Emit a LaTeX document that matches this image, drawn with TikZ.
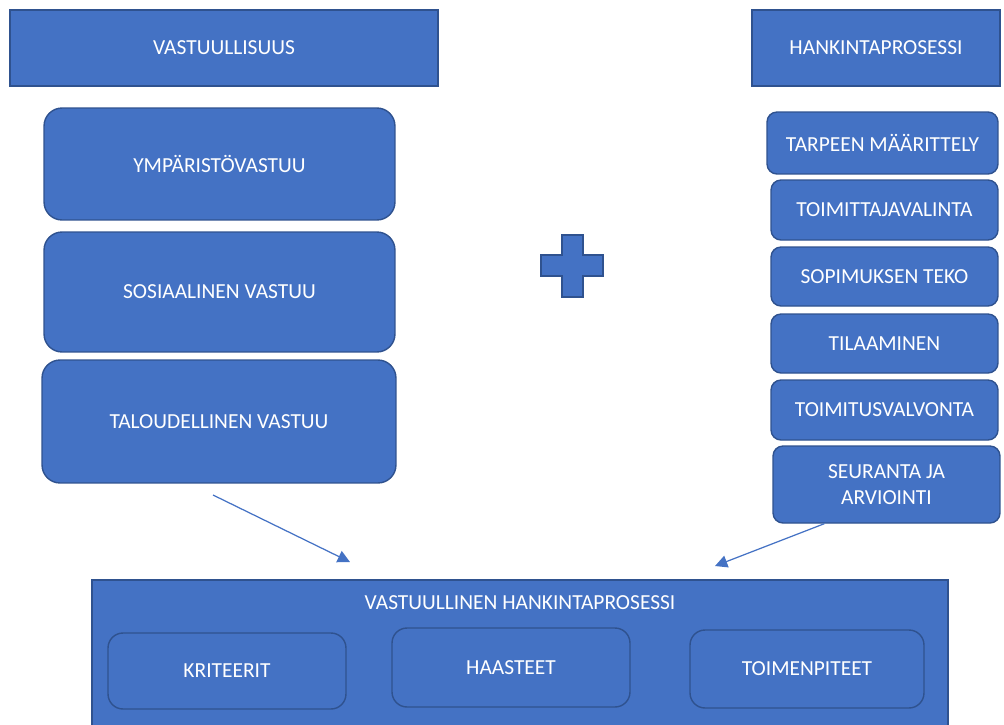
\documentclass[tikz,border=0pt]{standalone}
\usepackage{fontspec}
\setmainfont{Carlito}
\usetikzlibrary{arrows.meta}

\definecolor{boxblue}{HTML}{4472C4}
\definecolor{edgeblue}{HTML}{2F528F}

\begin{document}
\begin{tikzpicture}[x=0.02cm,y=-0.02cm,>={Triangle[length=7pt,width=7pt]},
  box/.style={draw=edgeblue,fill=boxblue,line width=0.8pt,text=white,font=\fontsize{12.2}{14}\selectfont,align=center,inner sep=0pt},
  bigbox/.style={box,rounded corners=0.36cm,minimum width=7.02cm},
  stepbox/.style={box,rounded corners=0.2cm,minimum width=4.54cm},
  partbox/.style={box,rounded corners=0.3cm}]

\useasboundingbox (0,0) rectangle (1004,724);
\clip (0,0) rectangle (1004,724);

% headers
\node[box,minimum width=8.56cm,minimum height=1.52cm] (vastuu) at (224,48) {VASTUULLISUUS};
\node[box,minimum width=4.96cm,minimum height=1.52cm] (hankinta) at (876,48) {HANKINTAPROSESSI};

% left column
\node[bigbox,minimum height=2.24cm] (ymparisto) at (219.5,164) {YMPÄRISTÖVASTUU};
\node[bigbox,minimum height=2.4cm] (sosiaalinen) at (219.5,292) {SOSIAALINEN VASTUU};
\node[bigbox,minimum width=7.08cm,minimum height=2.46cm] (taloudellinen) at (219,421.5) {TALOUDELLINEN VASTUU};

% right column
\node[stepbox,minimum width=4.62cm,minimum height=1.24cm] (tarve) at (882.5,143) {TARPEEN MÄÄRITTELY};
\node[stepbox,minimum height=1.2cm] (toimittaja) at (884.5,210) {TOIMITTAJAVALINTA};
\node[stepbox,minimum height=1.18cm] (sopimus) at (884.5,276.5) {SOPIMUKSEN TEKO};
\node[stepbox,minimum height=1.18cm] (tilaus) at (884.5,343.5) {TILAAMINEN};
\node[stepbox,minimum height=1.2cm] (valvonta) at (884.5,410) {TOIMITUSVALVONTA};
\node[stepbox,minimum height=1.54cm] (seuranta) at (886.5,484.5) {SEURANTA JA\\[1pt]ARVIOINTI};

% plus sign
\filldraw[draw=edgeblue,fill=boxblue,line width=0.8pt] (562,235) -- (583,235) -- (583,255) -- (603,255) -- (603,276) -- (583,276)
  -- (583,297) -- (562,297) -- (562,276) -- (541,276) -- (541,255) -- (562,255) -- cycle;

% bottom
\node[box,minimum width=17.12cm,minimum height=3.1cm] (tulos) at (520,657.5) {};
\node[text=white,font=\fontsize{12.2}{14}\selectfont] (otsikko) at (520,603) {VASTUULLINEN HANKINTAPROSESSI};
\node[partbox,minimum width=4.76cm,minimum height=1.52cm] (kriteerit) at (227,671) {KRITEERIT};
\node[partbox,minimum width=4.76cm,minimum height=1.58cm] (haasteet) at (511,667.5) {HAASTEET};
\node[partbox,minimum width=4.68cm,minimum height=1.56cm] (toimenpiteet) at (807,669) {TOIMENPITEET};

% arrows
\coordinate (a1) at (213,495);
\coordinate (b1) at (350,562);
\coordinate (b2) at (715,566);
\draw[->,boxblue,line width=0.7pt] (a1) -- (b1);
\draw[->,boxblue,line width=0.7pt] (seuranta.south west) ++(52,0) coordinate (a2) -- (b2);

\end{tikzpicture}
\end{document}
